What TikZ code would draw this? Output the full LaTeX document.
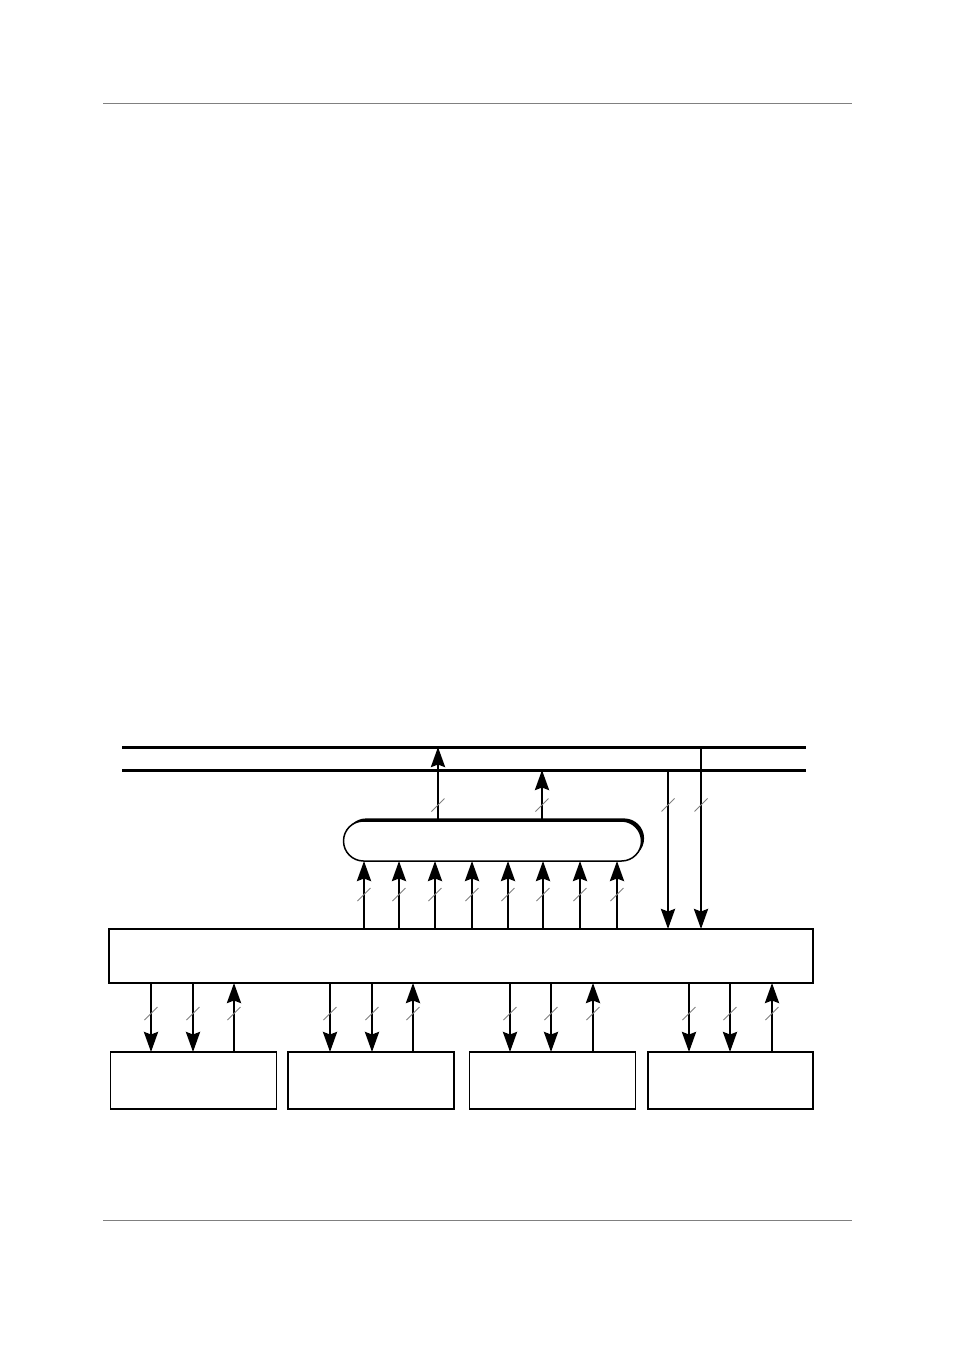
\documentclass[tikz,border=0pt]{standalone}
\usetikzlibrary{arrows.meta,shadows}
\begin{document}
\begin{tikzpicture}[x=1pt,y=-1pt,
  rule/.style={draw=gray,line width=1pt},
  bus/.style={line width=3pt},
  arr/.style={line width=2.7pt,-{Stealth[length=20pt,width=14pt,inset=2.5pt]}},
  box/.style={draw,line width=1.8pt,inner sep=0pt,outer sep=0pt},
  pill/.style={draw,line width=1.5pt,fill=white,rounded corners=20pt,inner sep=0pt,outer sep=0pt,
    drop shadow={shadow xshift=2.6pt,shadow yshift=2.6pt,opacity=1,fill=black}},
  slash/.style={draw=gray,line width=1pt}]
\useasboundingbox (0,0) rectangle (954,1351);
% page rules
\coordinate (hl) at (103,104); \coordinate (hr) at (852,104);
\coordinate (fl) at (103,1220); \coordinate (fr) at (852,1220);
\draw[rule] (hl) -- (hr);
\draw[rule] (fl) -- (fr);
% buses
\coordinate (aL) at (122,747); \coordinate (aR) at (806,747);
\coordinate (bL) at (122,770); \coordinate (bR) at (806,770);
\draw[bus] (aL) -- (aR);
\draw[bus] (bL) -- (bR);
% nodes
\node[pill,minimum width=298pt,minimum height=40pt] (pill) at (492.5,841) {};
\node[box,minimum width=704pt,minimum height=54pt] (main) at (461,956) {};
\node[box,minimum width=166pt,minimum height=57pt] (b1) at (193.5,1080.5) {};
\node[box,minimum width=166pt,minimum height=57pt] (b2) at (371,1080.5) {};
\node[box,minimum width=166pt,minimum height=57pt] (b3) at (552.5,1080.5) {};
\node[box,minimum width=165pt,minimum height=57pt] (b4) at (730.5,1080.5) {};
% pill outputs
\coordinate (p1) at (438,0); \coordinate (p2) at (542,0);
\draw[arr] (pill.north -| p1) -- (aL -| p1);
\draw[arr] (pill.north -| p2) -- (bL -| p2);
\foreach \c/\x in {p1/438,p2/542} \draw[slash] (\x-6.5,811.5) -- (\x+6.5,798.5);
% pill inputs
\foreach \x [count=\i] in {364,399,435,472,508,543,580,617}{
  \coordinate (q\i) at (\x,0);
  \draw[arr] (main.north -| q\i) -- (pill.south -| q\i);
  \draw[slash] (\x-6.5,901) -- (\x+6.5,888);
}
% bus down to main
\coordinate (d1) at (668,0); \coordinate (d2) at (701,0);
\draw[arr] (bL -| d1) -- (main.north -| d1);
\draw[arr] (aL -| d2) -- (main.north -| d2);
\foreach \x in {668,701} \draw[slash] (\x-6.5,811.5) -- (\x+6.5,798.5);
% bottom links
\foreach \bx/\xa/\xb/\xc [count=\j] in {b1/151/193/234,b2/330/372/413,b3/510/551/593,b4/689/730/772}{
  \coordinate (da\j) at (\xa,0);
  \coordinate (db\j) at (\xb,0);
  \coordinate (uc\j) at (\xc,0);
  \draw[arr] (main.south -| da\j) -- (\bx.north -| da\j);
  \draw[arr] (main.south -| db\j) -- (\bx.north -| db\j);
  \draw[arr] (\bx.north -| uc\j) -- (main.south -| uc\j);
  \foreach \x in {\xa,\xb,\xc} \draw[slash] (\x-6.5,1020) -- (\x+6.5,1007);
}
\end{tikzpicture}
\end{document}
